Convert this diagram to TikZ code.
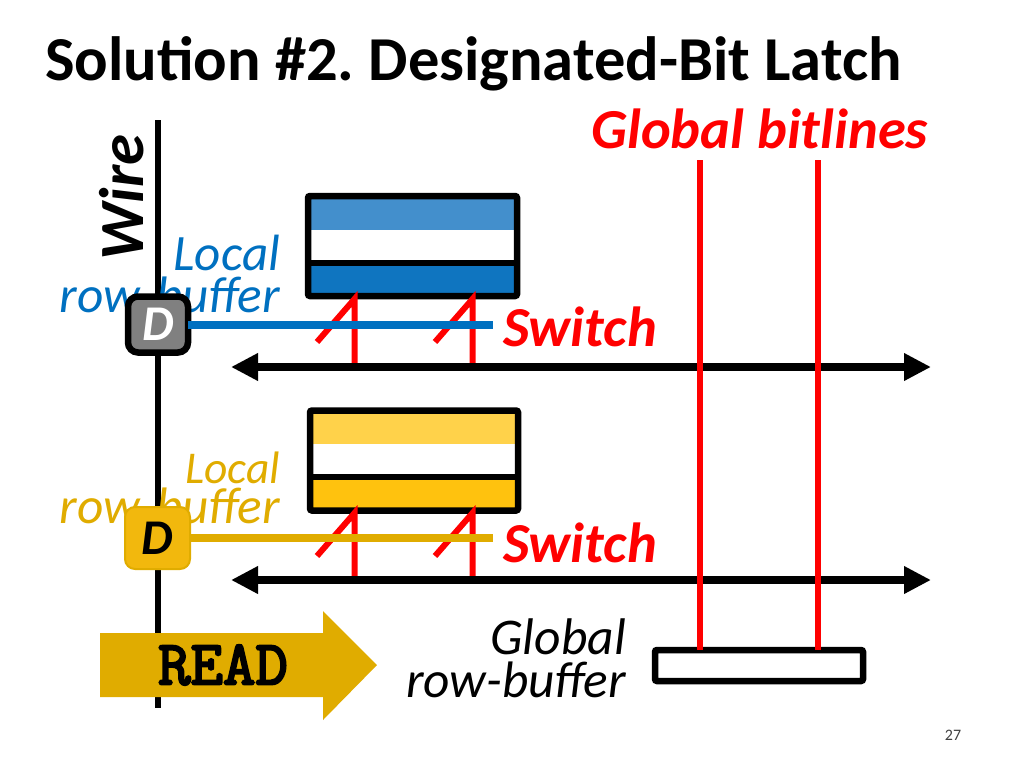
\documentclass[tikz,border=0pt]{standalone}
\usepackage{fontspec}
\setmainfont{Carlito}
\newfontfamily\readfont[FakeBold=3.5]{Latin Modern Mono}
\usetikzlibrary{arrows.meta}
\definecolor{localblue}{HTML}{0070C0}
\definecolor{bandblue}{HTML}{438FCC}
\definecolor{lowblue}{HTML}{0F75C0}
\definecolor{localgold}{HTML}{E0AC00}
\definecolor{bandgold}{HTML}{FFD24A}
\definecolor{lowgold}{HTML}{FFC20E}
\tikzset{
  wireline/.style={line width=6pt},
  bitline/.style={line width=6pt,color=red},
  busline/.style={line width=7.5pt,{Triangle[length=27pt,width=26pt]}-{Triangle[length=27pt,width=26pt]}},
  matbox/.style={draw,line width=6.5pt,rounded corners=2pt,inner sep=0pt,outer sep=0pt},
  latchbox/.style={draw,line width=6.5pt,rounded corners=10pt,inner sep=0pt,outer sep=0pt,minimum width=60pt,minimum height=56pt},
  lbl/.style={inner sep=0pt,outer sep=0pt},
}
\newcommand{\fsz}[1]{\fontsize{#1}{#1}\selectfont}
\frenchspacing
\begin{document}
\begin{tikzpicture}[x=1pt,y=-1pt]
\useasboundingbox (0,0) rectangle (1024,768);
% title
\node[lbl,anchor=base west] (title) at (45,81) {\fsz{62.5}\bfseries Solution \#2. Designated-Bit Latch};
\node[lbl,anchor=base east,text=red] (globalbl) at (928,148) {\fsz{56.5}\bfseries\itshape Global bitlines};
% wire on the left
\coordinate (wiretop) at (158,120);
\coordinate (wirebot) at (158,708);
\draw[wireline] (wiretop) -- (wirebot);
\node[lbl,rotate=90,text=black] (wirelbl) at (122,197.5) {\fsz{63}\bfseries\itshape Wire};
% labels of local row-buffers
\node[lbl,anchor=base east,text=localblue] (localA) at (280,270) {\fsz{51}\itshape Local};
\node[lbl,anchor=base east,text=localblue] (rowA) at (280,312) {\fsz{51.3}\itshape row-buffer};
\node[lbl,anchor=base east,text=localgold] (localB) at (280,483) {\fsz{45.5}\itshape Local};
\node[lbl,anchor=base east,text=localgold] (rowB) at (280,523) {\fsz{51.3}\itshape row-buffer};
% upper subarray
\fill[bandblue] (308,199) rectangle (517,230);
\fill[lowblue] (308,263) rectangle (517,296);
\node[matbox,minimum width=209pt,minimum height=100pt] (matA) at (412.5,246) {};
\coordinate (divAl) at (308,263);
\coordinate (divAr) at (517,263);
\draw[line width=6pt] (divAl) -- (divAr);
% lower subarray
\fill[bandgold] (310,414) rectangle (518,444);
\fill[lowgold] (310,477) rectangle (518,510);
\node[matbox,minimum width=208pt,minimum height=100pt] (matB) at (414,460.5) {};
\coordinate (divBl) at (310,477);
\coordinate (divBr) at (518,477);
\draw[line width=6pt] (divBl) -- (divBr);
% switches of upper subarray
\coordinate (swAa) at (354.5,299);
\coordinate (swAb) at (472.5,299);
\coordinate (busAa) at (354.5,367);
\coordinate (busAb) at (472.5,367);
\coordinate (tailAa) at (317,342);
\coordinate (tailAb) at (435,342);
\draw[bitline] (busAa) -- (swAa) -- (tailAa);
\draw[bitline] (busAb) -- (swAb) -- (tailAb);
% switches of lower subarray
\coordinate (swBa) at (354.5,513);
\coordinate (swBb) at (472.5,513);
\coordinate (busBa) at (354.5,580);
\coordinate (busBb) at (472.5,580);
\coordinate (tailBa) at (317,556);
\coordinate (tailBb) at (435,556);
\draw[bitline] (busBa) -- (swBa) -- (tailBa);
\draw[bitline] (busBb) -- (swBb) -- (tailBb);
% designated-bit latches
\node[latchbox,fill=black!50,text=white] (latchA) at (158,324.5) {\fsz{50}\bfseries\itshape\raisebox{-2pt}{D}};
\node[latchbox,fill=lowgold!95!black,draw=localgold,line width=2pt,minimum width=65pt,minimum height=62pt,text=black] (latchB) at (157.5,538) {\fsz{50}\bfseries\itshape\raisebox{-2pt}{D}};
% lines of local row-buffers
\coordinate (endA) at (493,324);
\coordinate (endB) at (493,538);
\draw[line width=8pt,color=localblue] (latchA.east) -- (latchA.east -| endA);
\draw[line width=8pt,color=localgold] (latchB.east) -- (latchB.east -| endB);
\node[lbl,anchor=base west,text=red] (switchA) at (503,346) {\fsz{56.5}\bfseries\itshape Switch};
\node[lbl,anchor=base west,text=red] (switchB) at (503,562) {\fsz{56.5}\bfseries\itshape Switch};
% shared buses
\coordinate (busAl) at (231,367);
\coordinate (busAr) at (931,367);
\coordinate (busBl) at (231,580);
\coordinate (busBr) at (931,580);
\draw[busline] (busAl) -- (busAr);
\draw[busline] (busBl) -- (busBr);
% global row-buffer and bitlines
\node[matbox,minimum width=208pt,minimum height=31pt] (globalrb) at (759,665.5) {};
\coordinate (blAtop) at (699.5,160);
\coordinate (blBtop) at (818,160);
\draw[bitline] (blAtop) -- (blAtop |- globalrb.north);
\draw[bitline] (blBtop) -- (blBtop |- globalrb.north);
\node[lbl,anchor=base east] (globalA) at (626,654) {\fsz{51.5}\itshape Global};
\node[lbl,anchor=base east] (rowG) at (626,697) {\fsz{51.3}\itshape row-buffer};
% read arrow
\fill[localgold] (100,633) -- (323,633) -- (323,611) -- (377,665) -- (323,720) -- (323,697) -- (100,697) -- cycle;
\node[lbl,text=black] (readlbl) at (223,665) {\fsz{63}\readfont READ};
% page number
\node[lbl,text=black!75] (pagenum) at (953,735) {\fsz{16}27};
\end{tikzpicture}
\end{document}
